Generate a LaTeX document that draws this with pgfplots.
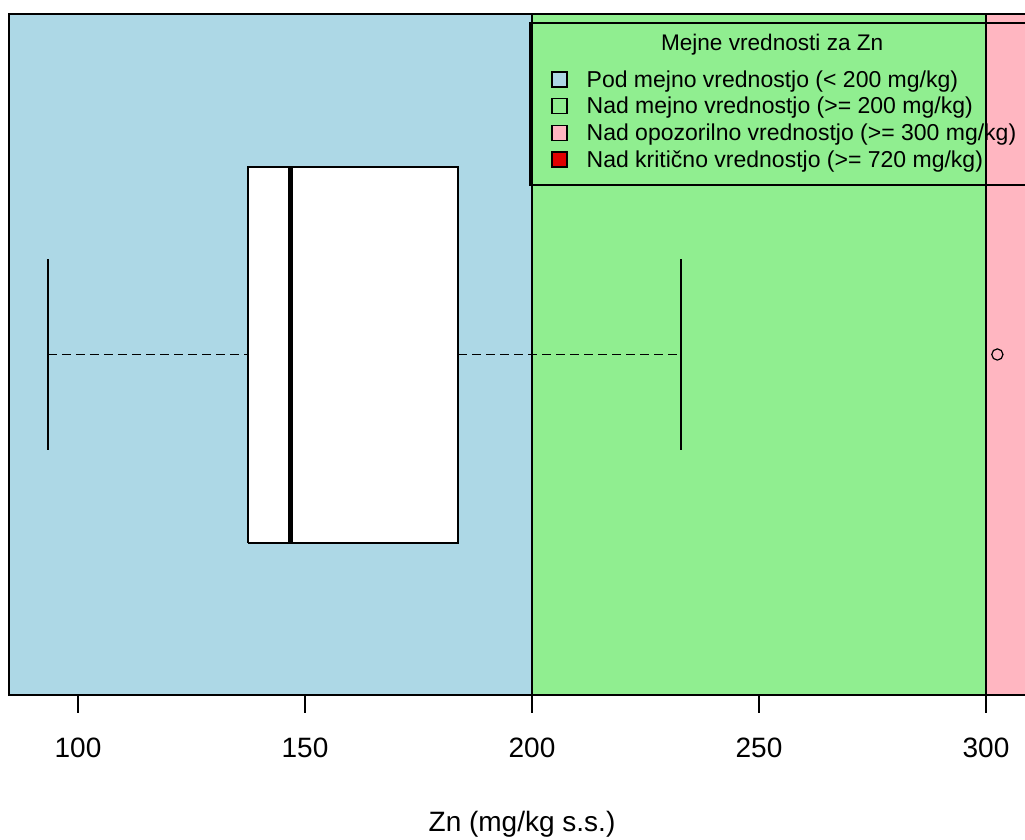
\documentclass[border=0pt]{standalone}
\usepackage{pgfplots}
\pgfplotsset{compat=1.18}
\usepackage{fontspec}
\setmainfont{Liberation Sans}
\definecolor{rlblue}{HTML}{ADD8E6}
\definecolor{rlgreen}{HTML}{90EE90}
\definecolor{rpink}{HTML}{FFB6C1}
\definecolor{rred}{HTML}{E00000}
\begin{document}
\begin{tikzpicture}
\useasboundingbox (0,0) rectangle (512.5pt,420pt);
\begin{axis}[
  at={(4.5pt,72.5pt)}, anchor=south west,
  scale only axis, width=513pt, height=340.5pt,
  xmin=84.8, xmax=310.79, ymin=0.5, ymax=1.5,
  ytick=\empty,
  xtick={100,150,200,250,300},
  xtick pos=bottom, tick align=outside, major tick length=9pt,
  tick style={black, line width=0.75pt},
  axis line style={line width=0.75pt},
  axis on top,
  /pgf/number format/assume math mode=true,
  ticklabel style={font=\fontsize{14}{16}\selectfont},
  xticklabel style={yshift=-9pt},
  xlabel={Zn (mg/kg s.s.)},
  xlabel style={font=\fontsize{14}{16}\selectfont, at={(axis description cs:0.5,0)}, anchor=north, inner sep=0pt, yshift=-58pt},
  legend image code/.code={\draw[#1, line width=0.6pt] (0pt,-2.4pt) rectangle (7.5pt,5.1pt);},
  legend style={at={(axis cs:204.2,1.4163)}, anchor=north west, draw=none, fill=none, inner sep=0pt, row sep=2.95pt, column sep=9.5pt, font=\fontsize{11.5}{13}\selectfont, nodes={inner sep=0pt, text height=0.75em, text depth=0.25em}},
  legend cell align=left,
]
% background zones
\addplot[forget plot, draw=none, fill=rlblue] coordinates {(80,0.4)(200,0.4)(200,1.6)(80,1.6)};
\addplot[forget plot, draw=none, fill=rlgreen] coordinates {(200,0.4)(300,0.4)(300,1.6)(200,1.6)};
\addplot[forget plot, draw=none, fill=rpink] coordinates {(300,0.4)(320,0.4)(320,1.6)(300,1.6)};
\addplot[forget plot, black, line width=0.75pt] coordinates {(200,0.4)(200,1.6)};
\addplot[forget plot, black, line width=0.75pt] coordinates {(300,0.4)(300,1.6)};
% boxplot
\addplot[forget plot, black, line width=0.75pt, dash pattern=on 4.5pt off 2.5pt] coordinates {(93.39,1)(137.44,1)};
\addplot[forget plot, black, line width=0.75pt, dash pattern=on 4.5pt off 2.5pt] coordinates {(183.7,1)(232.8,1)};
\addplot[forget plot, black, line width=0.75pt] coordinates {(93.39,0.86)(93.39,1.14)};
\addplot[forget plot, black, line width=0.75pt] coordinates {(232.8,0.86)(232.8,1.14)};
\addplot[forget plot, draw=black, fill=white, line width=0.75pt, line join=miter] coordinates {(137.44,0.7232)(183.7,0.7232)(183.7,1.2753)(137.44,1.2753)(137.44,0.7232)};
\addplot[forget plot, black, line width=2.5pt] coordinates {(146.8,0.7232)(146.8,1.2753)};
\addplot[forget plot, only marks, mark=o, mark size=2.8pt, mark options={line width=0.6pt, draw=black}] coordinates {(302.5,1)};
% legend
\draw[line width=0.75pt] (axis cs:199.56,1.4868) rectangle (axis cs:315,1.2489);
\node[font=\fontsize{11.3}{13}\selectfont, inner sep=0pt] at (axis cs:252.9,1.4552) {Mejne vrednosti za Zn};
\addlegendimage{fill=rlblue, draw=black}
\addlegendentry{Pod mejno vrednostjo (< 200 mg/kg)}
\addlegendimage{fill=rlgreen, draw=black}
\addlegendentry{Nad mejno vrednostjo (>= 200 mg/kg)}
\addlegendimage{fill=rpink, draw=black}
\addlegendentry{Nad opozorilno vrednostjo (>= 300 mg/kg)}
\addlegendimage{fill=rred, draw=black}
\addlegendentry{Nad kritično vrednostjo (>= 720 mg/kg)}
\end{axis}
\end{tikzpicture}
\end{document}
